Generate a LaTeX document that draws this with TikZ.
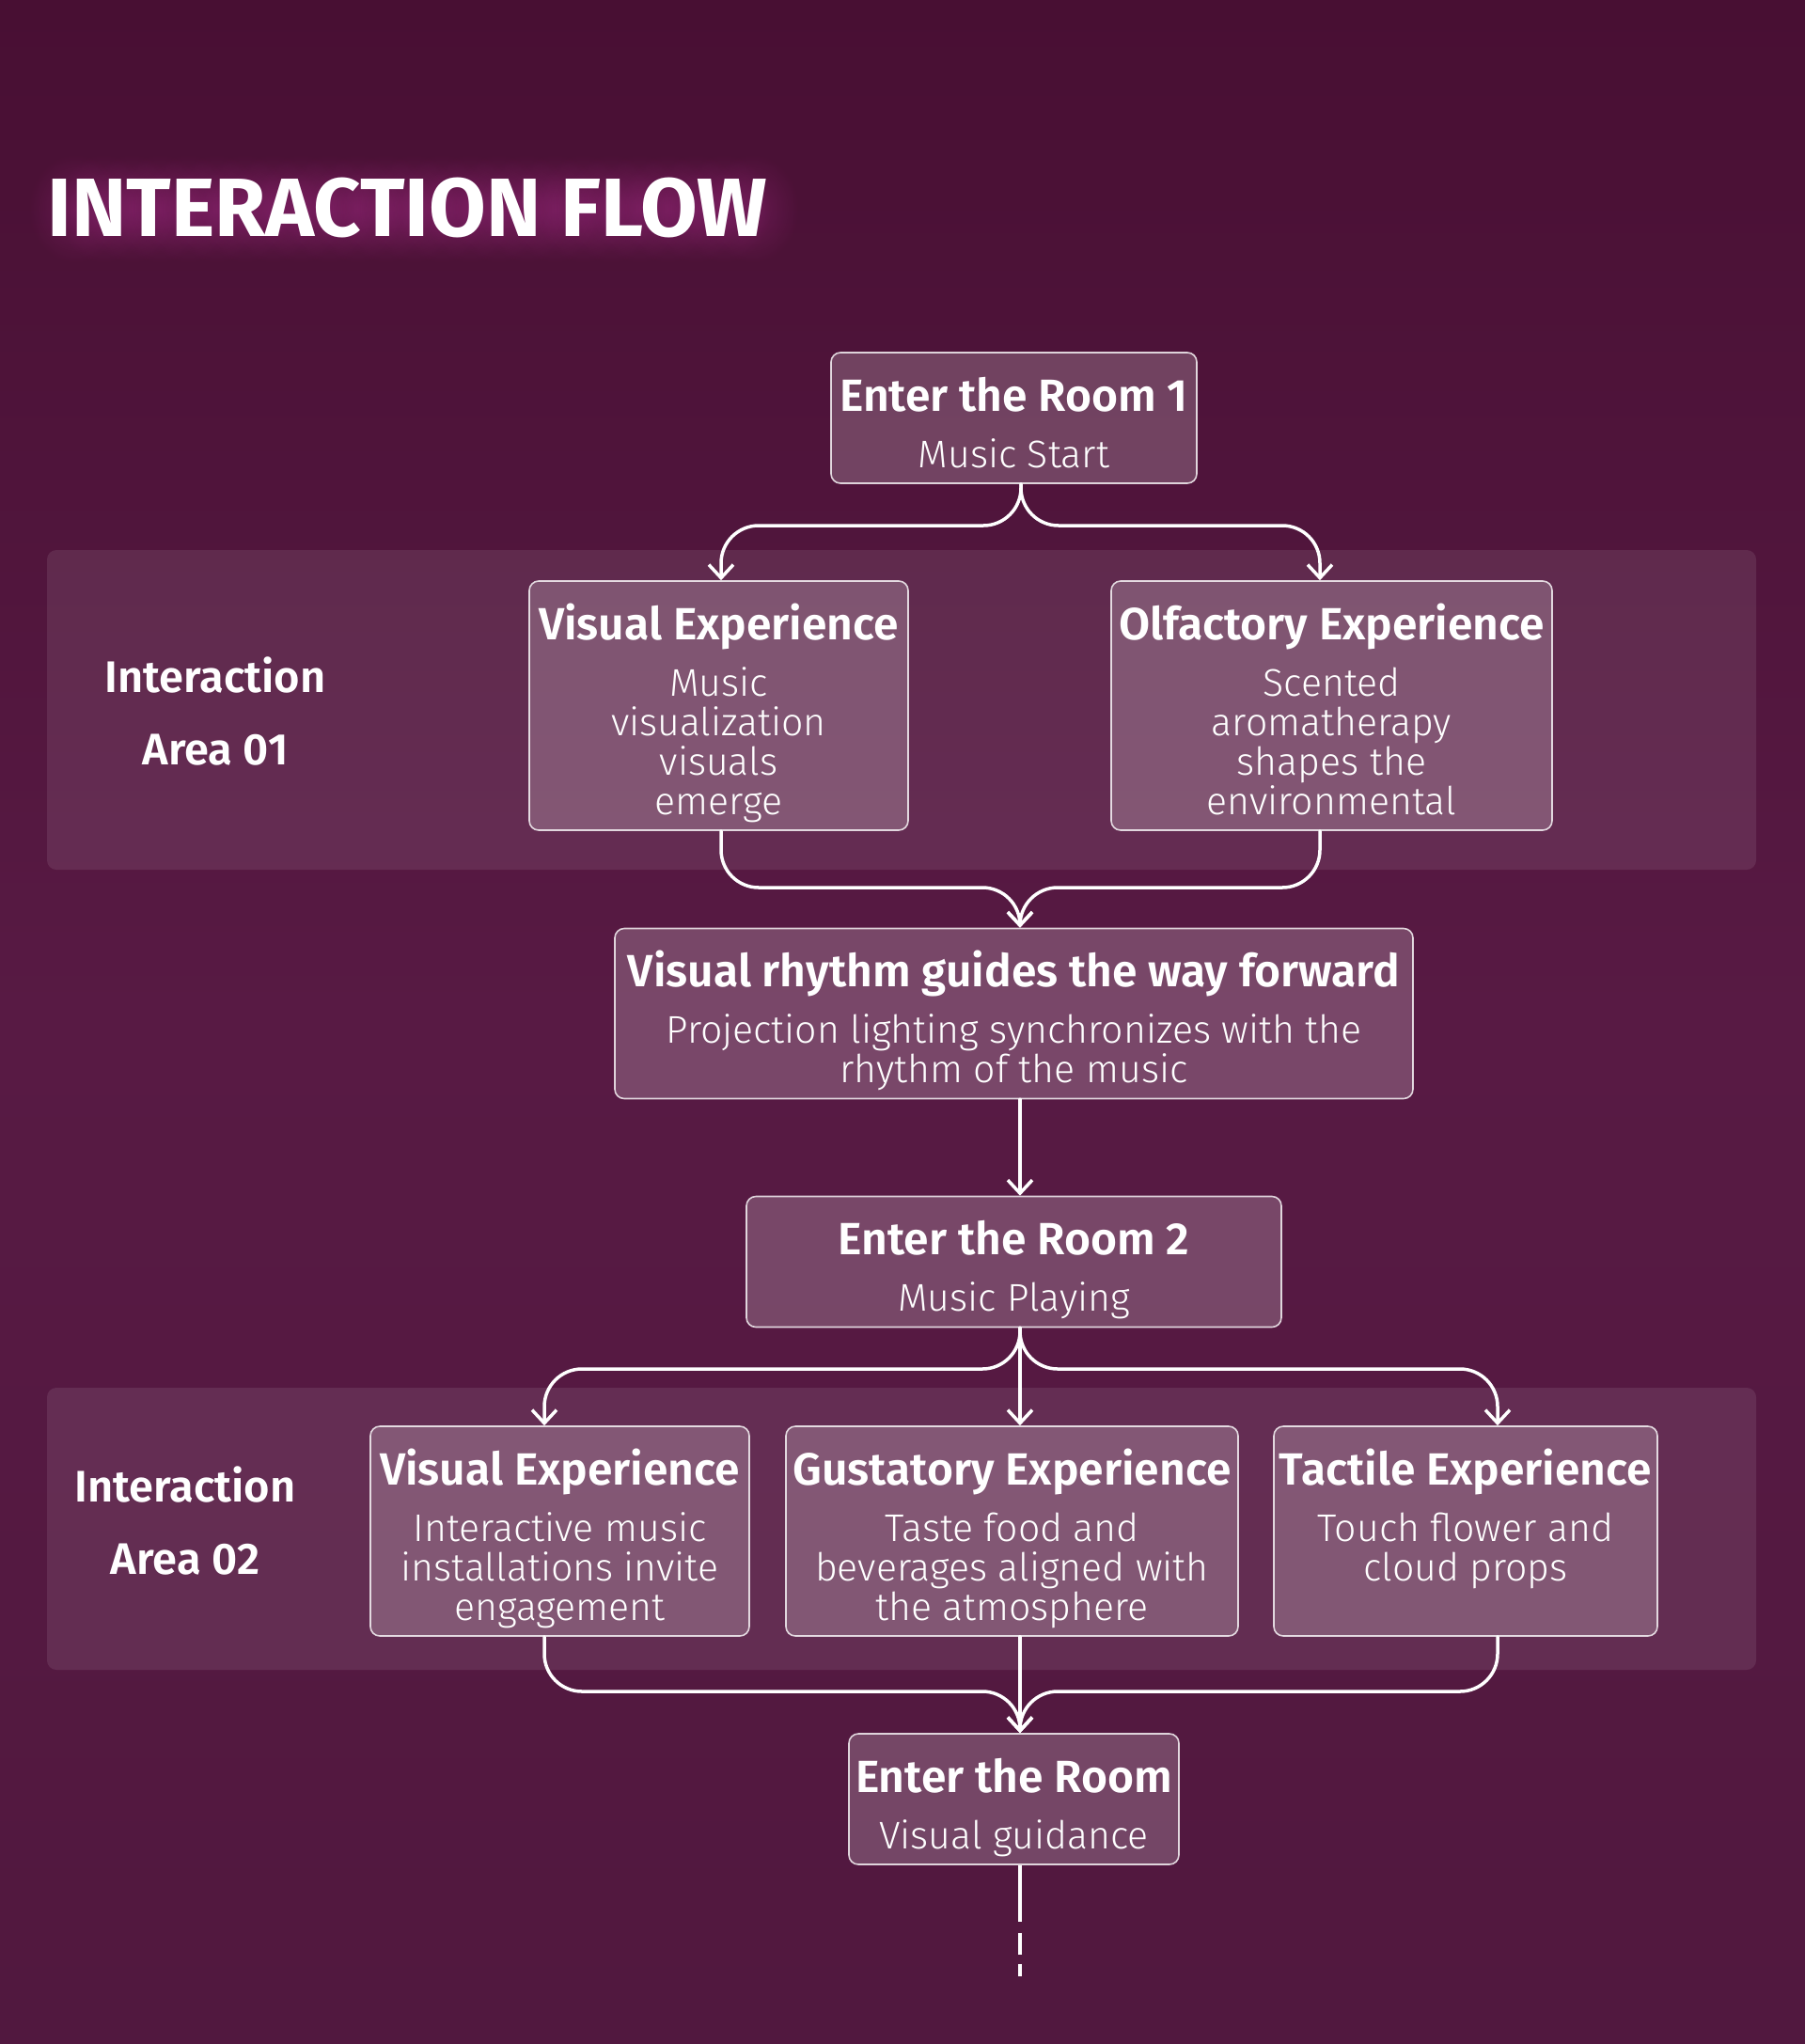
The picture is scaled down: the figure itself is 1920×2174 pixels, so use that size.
\documentclass[tikz,border=0pt]{standalone}
\usepackage{fontspec}
\setmainfont{Fira Sans}
\newfontfamily\firalight{Fira Sans Light}
\newfontfamily\firasemi{Fira Sans SemiBold}
\newfontfamily\firabold{Fira Sans Bold}
\usepackage{tikz}
\usetikzlibrary{arrows.meta}
\usetikzlibrary{calc}
\usetikzlibrary{fadings}
\definecolor{bgpurple}{RGB}{88,26,68}
\definecolor{bgtop}{RGB}{72,15,51}
\definecolor{glowpink}{RGB}{205,55,170}
\tikzfading[name=glowdot,inner color=transparent!0,outer color=transparent!100]
\newcommand{\boxtitle}{\firasemi\fontsize{24}{21}\selectfont}
\newcommand{\boxbody}{\firalight\fontsize{20.5}{21}\selectfont}
\newcommand{\stage}[2]{{\boxtitle #1}\\[9pt]#2}

\begin{document}
\begin{tikzpicture}[x=0.5pt,y=-0.5pt,line cap=round,line join=round,
  flowbox/.style={draw=white,draw opacity=0.8,line width=0.8pt,fill=white,fill opacity=0.2,
    text opacity=1,text=white,rounded corners=5pt,align=center,inner xsep=0pt,inner ysep=0pt,
    text depth=8.5pt,font=\boxbody},
  arealabel/.style={text=white,align=center,inner sep=0pt,text height=54.7pt,text depth=0pt,
    font=\firasemi\fontsize{23.5}{38.5}\selectfont},
  bigtitle/.style={anchor=base west,inner sep=0pt,font=\firabold\fontsize{44}{44}\selectfont},
  flow/.style={draw=white,line width=1.75pt,rounded corners=20pt,-{Straight Barb[length=7pt,width=13pt]}}]
\useasboundingbox (0,0) rectangle (1920,2174);
\shade[top color=bgtop,bottom color=bgpurple!92!black,middle color=bgpurple] (0,0) rectangle (1920,2174);
\foreach \x in {80,110,...,800}
  \fill[glowpink,fill opacity=0.22,path fading=glowdot] (\x,222) ellipse (50 and 58);
\node[bigtitle,text=white] (title) at (50,251) {INTERACTION FLOW};
\fill[white,fill opacity=0.09,rounded corners=5pt] (50,585) rectangle (1868,925);
\fill[white,fill opacity=0.09,rounded corners=5pt] (50,1476) rectangle (1868,1776);
\node[arealabel] (area1) at (229,758.5) {Interaction\\Area 01};
\node[arealabel] (area2) at (197,1620) {Interaction\\Area 02};
\node[flowbox,minimum width=194.5pt,text height=61pt] (room1) at (1078.5,444.5) {\stage{Enter the Room 1}{Music Start}};
\node[flowbox,minimum width=201.5pt,text height=124pt] (vis1) at (764.5,750.5) {\stage{Visual Experience}{Music\\visualization\\visuals\\emerge}};
\node[flowbox,minimum width=234.5pt,text height=124pt] (olf) at (1416.5,750.5) {\stage{Olfactory Experience}{Scented\\aromatherapy\\shapes the\\environmental}};
\node[flowbox,minimum width=424.5pt,text height=82pt] (rhythm) at (1078.5,1078) {\stage{Visual rhythm guides the way forward}{Projection lighting synchronizes with the\\rhythm of the music}};
\node[flowbox,minimum width=284.5pt,text height=61pt] (room2) at (1078.5,1342) {\stage{Enter the Room 2}{Music Playing}};
\node[flowbox,minimum width=201.5pt,text height=103pt] (vis2) at (595.5,1628.5) {\stage{Visual Experience}{Interactive music\\installations invite\\engagement}};
\node[flowbox,minimum width=240.5pt,text height=103pt] (gust) at (1076.5,1628.5) {\stage{Gustatory Experience}{Taste food and\\beverages aligned with\\the atmosphere}};
\node[flowbox,minimum width=204pt,text height=82pt,text depth=29.5pt] (tact) at (1559,1628.5) {\stage{Tactile Experience}{Touch flower and\\cloud props}};
\node[flowbox,minimum width=175.5pt,text height=61pt] (room3) at (1078.5,1913.5) {\stage{Enter the Room}{Visual guidance}};
\coordinate (j1) at (1086,559);
\coordinate (m1) at (1085,944);
\coordinate (j2) at (1085,1456);
\coordinate (m2) at (1085,1799);
\draw[flow] (room1.south -| j1) -- (j1) -| ([xshift=1.25pt]vis1.north);
\draw[flow] (room1.south -| j1) -- (j1) -| ([xshift=-6.25pt]olf.north);
\draw[flow] ([xshift=1.25pt]vis1.south) |- (m1) -- (m1 |- rhythm.north);
\draw[flow] ([xshift=-6.25pt]olf.south) |- (m1) -- (m1 |- rhythm.north);
\draw[flow] (rhythm.south -| m1) -- (room2.north -| m1);
\draw[flow] (room2.south -| j2) -- (j2) -| ([xshift=-8.25pt]vis2.north);
\draw[flow] (room2.south -| j2) -- (gust.north -| j2);
\draw[flow] (room2.south -| j2) -- (j2) -| ([xshift=17pt]tact.north);
\draw[flow] ([xshift=-8.25pt]vis2.south) |- (m2) -- (m2 |- room3.north);
\draw[flow] (gust.south -| m2) -- (room3.north -| m2);
\draw[flow] ([xshift=17pt]tact.south) |- (m2) -- (m2 |- room3.north);
\draw[white,line width=1.75pt,line cap=butt,dash pattern=on 30pt off 6pt on 11.5pt off 5pt on 6.5pt off 60pt] (room3.south -| m2) -- ++(0,118);
\end{tikzpicture}
\end{document}
